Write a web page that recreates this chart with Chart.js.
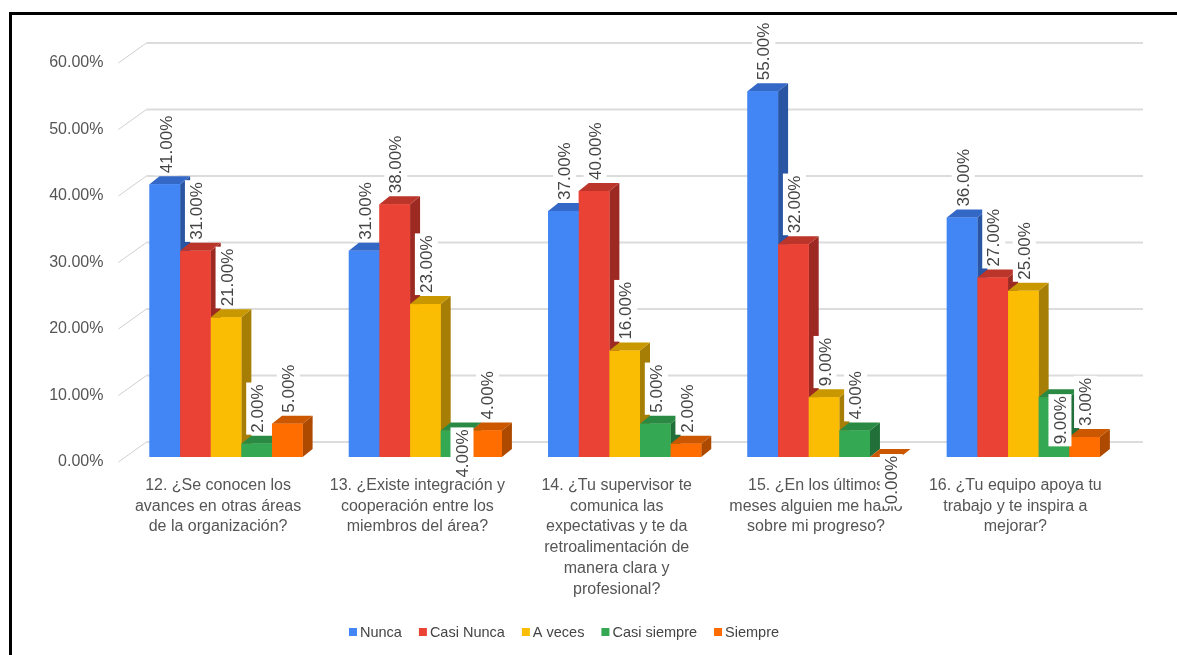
<!DOCTYPE html>
<html>
<head>
<meta charset="utf-8">
<script src="https://cdn.jsdelivr.net/npm/chart.js@4.4.1/dist/chart.umd.min.js"></script>
<style>
  html, body { margin: 0; padding: 0; background: #fff; overflow: hidden; }
  #wrap { position: relative; width: 1177px; height: 655px; }
  #frame {
    position: absolute; left: 9px; top: 12px; width: 1300px; height: 800px;
    border-left: 3px solid #000; border-top: 3px solid #000; pointer-events: none;
  }
</style>
</head>
<body>
<div id="wrap">
  <canvas id="chart" width="1177" height="655"></canvas>
  <div id="frame"></div>
</div>
<script>
// Data
const categories = [
    ['12. ¿Se conocen los', 'avances en otras áreas', 'de la organización?'],
    ['13. ¿Existe integración y', 'cooperación entre los', 'miembros del área?'],
    ['14. ¿Tu supervisor te', 'comunica las', 'expectativas y te da', 'retroalimentación de', 'manera clara y', 'profesional?'],
    ['15. ¿En los últimos', 'meses alguien me habló', 'sobre mi progreso?'],
    ['16. ¿Tu equipo apoya tu', 'trabajo y te inspira a', 'mejorar?']
];
const seriesNames = ['Nunca', 'Casi Nunca', 'A veces', 'Casi siempre', 'Siempre'];
const nunca = [41, 31, 37, 55, 36];
const casiNunca = [31, 38, 40, 32, 27];
const aVeces = [21, 23, 16, 9, 25];
const casiSiempre = [2, 4, 5, 4, 9];
const siempre = [5, 4, 2, 0, 3];
const yTicks = [0, 10, 20, 30, 40, 50, 60];

// labels that sit inside the bar instead of above it: [category, series]
const insideLabels = [[1, 3], [3, 4], [4, 3]];

const FONT = "'Liberation Sans', Arial, sans-serif";
const front = ['#4285f4', '#ea4335', '#fbbc04', '#34a853', '#ff6d01'];
const topFace = ['#3468c6', '#bb352b', '#c99700', '#2a8a43', '#cc5701'];
const sideFace = ['#2a55a3', '#9c2a22', '#a67e06', '#21703a', '#ad4a00'];
const DX = 10, DY = -8;

const values = [nunca, casiNunca, aVeces, casiSiempre, siempre];

// back grid with the slanted floor edge on the left
const gridPlugin = {
    id: 'grid3d',
    beforeDatasetsDraw(chart) {
        const ctx = chart.ctx;
        const { left, right } = chart.chartArea;
        const y = chart.scales.y;
        ctx.save();
        yTicks.forEach(v => {
            const py = y.getPixelForValue(v);
            ctx.strokeStyle = '#cfcfcf';
            ctx.lineWidth = 1;
            ctx.beginPath();
            ctx.moveTo(left - 8, py + 5);
            ctx.lineTo(left + 20, py - 15);
            ctx.stroke();
            ctx.strokeStyle = '#dcdcdc';
            ctx.lineWidth = 2;
            ctx.beginPath();
            ctx.moveTo(left + 20, py - 15);
            ctx.lineTo(right + 20, py - 15);
            ctx.stroke();
        });
        ctx.restore();
    }
};

// extruded bars + rotated value labels
const barsPlugin = {
    id: 'bars3d',
    afterDatasetsDraw(chart) {
        const ctx = chart.ctx;
        ctx.save();
        for (let c = 0; c < categories.length; c++) {
            for (let s = 0; s < values.length; s++) {
                const bar = chart.getDatasetMeta(s).data[c];
                const { x, y, width, base } = bar.getProps(['x', 'y', 'width', 'base'], true);
                const x0 = x - width / 2, x1 = x + width / 2;
                ctx.fillStyle = sideFace[s];
                ctx.beginPath();
                ctx.moveTo(x1, y);
                ctx.lineTo(x1 + DX, y + DY);
                ctx.lineTo(x1 + DX, base + DY);
                ctx.lineTo(x1, base);
                ctx.closePath();
                ctx.fill();
                ctx.fillStyle = topFace[s];
                ctx.beginPath();
                ctx.moveTo(x0, y);
                ctx.lineTo(x0 + DX, y + DY);
                ctx.lineTo(x1 + DX, y + DY);
                ctx.lineTo(x1, y);
                ctx.closePath();
                ctx.fill();
                ctx.fillStyle = front[s];
                ctx.fillRect(x0, y, width, base - y);
            }
        }

        ctx.font = '17px ' + FONT;
        for (let c = 0; c < categories.length; c++) {
            for (let s = 0; s < values.length; s++) {
                const bar = chart.getDatasetMeta(s).data[c];
                const { x, y } = bar.getProps(['x', 'y'], true);
                const text = values[s][c].toFixed(2) + '%';
                const h = ctx.measureText(text).width + 4;
                const inside = insideLabels.some(p => p[0] === c && p[1] === s);
                const cx = x + (inside ? 6 : 1);
                const top = inside ? y - 3 : y + DY - 1 - h;
                ctx.fillStyle = '#fff';
                ctx.fillRect(cx - 11.5, top, 23, h);
                ctx.save();
                ctx.translate(cx, top + h / 2);
                ctx.rotate(-Math.PI / 2);
                ctx.fillStyle = '#444';
                ctx.textAlign = 'center';
                ctx.textBaseline = 'middle';
                ctx.fillText(text, 0, 1);
                ctx.restore();
            }
        }
        ctx.restore();
    }
};

const legendPlugin = {
    id: 'legendRow',
    afterDraw(chart) {
        const ctx = chart.ctx;
        ctx.save();
        ctx.font = '14.5px ' + FONT;
        const widths = seriesNames.map(n => ctx.measureText(n).width);
        const total = widths.reduce((a, w) => a + 11 + w, 0) + 17 * (seriesNames.length - 1);
        let x = 564 - total / 2;
        const cy = 632;
        seriesNames.forEach((n, i) => {
            ctx.fillStyle = front[i];
            ctx.fillRect(x, cy - 4, 8, 8);
            ctx.fillStyle = '#444';
            ctx.textBaseline = 'middle';
            ctx.fillText(n, x + 11, cy + 1);
            x += 11 + widths[i] + 17;
        });
        ctx.restore();
    }
};

new Chart(document.getElementById('chart'), {
    type: 'bar',
    data: {
        labels: categories,
        datasets: seriesNames.map((name, i) => ({
            label: name,
            data: values[i],
            backgroundColor: front[i],
            categoryPercentage: 0.768,
            barPercentage: 1
        }))
    },
    options: {
        responsive: false,
        animation: false,
        events: [],
        layout: { padding: { top: 58, left: 0, right: 54, bottom: 0 } },
        plugins: { legend: { display: false }, tooltip: { enabled: false } },
        scales: {
            x: {
                grid: { display: false, drawTicks: false },
                border: { display: false },
                afterFit: s => { s.height = 198; },
                ticks: {
                    autoSkip: false, maxRotation: 0, minRotation: 0,
                    padding: 18, labelOffset: -8,
                    color: '#555',
                    font: { family: FONT, size: 16, lineHeight: 1.3 }
                }
            },
            y: {
                min: 0, max: 60,
                grid: { display: false, drawTicks: false },
                border: { display: false },
                afterFit: s => { s.width = 126.4; },
                afterBuildTicks: s => { s.ticks = yTicks.map(v => ({ value: v })); },
                ticks: {
                    padding: 23, labelOffset: 5,
                    color: '#555',
                    font: { family: FONT, size: 16 },
                    callback: v => v.toFixed(2) + '%'
                }
            }
        }
    },
    plugins: [gridPlugin, barsPlugin, legendPlugin]
});
</script>
</body>
</html>
